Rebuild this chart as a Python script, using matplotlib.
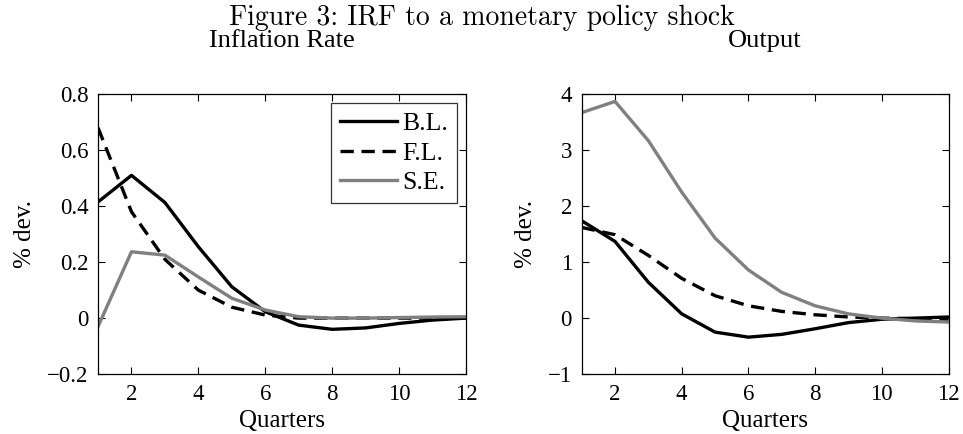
import matplotlib.pyplot as plt
import numpy as np

quarters = np.arange(1, 13)

infl_bl = [0.415, 0.51, 0.413, 0.255, 0.112, 0.023, -0.025, -0.04, -0.035, -0.019, -0.007, 0.0]
infl_fl = [0.68, 0.38, 0.21, 0.10, 0.039, 0.011, 0.0, 0.0, 0.0, 0.0, 0.0, 0.0]
infl_se = [-0.03, 0.237, 0.225, 0.147, 0.071, 0.029, 0.005, 0.0, 0.0, 0.002, 0.004, 0.005]

out_bl = [1.74, 1.37, 0.64, 0.076, -0.25, -0.34, -0.29, -0.19, -0.08, -0.02, 0.0, 0.02]
out_fl = [1.62, 1.49, 1.12, 0.71, 0.40, 0.22, 0.12, 0.06, 0.02, 0.0, -0.01, -0.02]
out_se = [3.67, 3.87, 3.17, 2.25, 1.43, 0.86, 0.46, 0.22, 0.076, 0.0, -0.05, -0.07]

series_names = ['B.L.', 'F.L.', 'S.E.']
xticks = [2, 4, 6, 8, 10, 12]

plt.rcParams['font.family'] = ['Liberation Serif', 'DejaVu Serif']
plt.rcParams['axes.unicode_minus'] = True

fig = plt.figure(figsize=(9.63, 4.34), dpi=100)

ax1 = fig.add_axes([0.1018, 0.138, 0.382, 0.645])
ax2 = fig.add_axes([0.604, 0.138, 0.381, 0.645])

grey = '#808080'
lw = 2.4

panels = [
    (ax1, infl_bl, infl_fl, infl_se, 'Inflation Rate', (-0.2, 0.8), [-0.2, 0, 0.2, 0.4, 0.6, 0.8]),
    (ax2, out_bl, out_fl, out_se, 'Output', (-1, 4), [-1, 0, 1, 2, 3, 4]),
]

for ax, bl, fl, se, title, ylim, yticks in panels:
    ax.plot(quarters, bl, color='black', linewidth=lw, label=series_names[0])
    ax.plot(quarters, fl, color='black', linewidth=lw, linestyle=(0, (4, 2.3)), label=series_names[1])
    ax.plot(quarters, se, color=grey, linewidth=lw, label=series_names[2])

    ax.set_xlim(1, 12)
    ax.set_ylim(*ylim)
    ax.set_xticks(xticks)
    ax.set_yticks(yticks)
    ax.set_yticklabels([('%g' % v).replace('-', '\u2212') for v in yticks])
    ax.tick_params(direction='in', top=True, right=True, length=5, width=0.8,
                   labelsize=16.5, pad=7)
    for s in ax.spines.values():
        s.set_linewidth(0.9)

    ax.set_title(title, fontsize=19, pad=34)
    ax.set_xlabel('Quarters', fontsize=18, labelpad=4)
    ax.set_ylabel('% dev.', fontsize=18, labelpad=8)

leg = ax1.legend(loc='upper right', fontsize=18.5, frameon=True, fancybox=False,
                 handlelength=2.2, handletextpad=0.2, borderpad=0.35,
                 labelspacing=0.25, borderaxespad=0.35)
leg.get_frame().set_edgecolor('black')
leg.get_frame().set_linewidth(0.9)

fig.text(0.5, 0.958, 'Figure 3: IRF to a monetary policy shock',
         ha='center', va='center', fontsize=20, family='cmr10')

plt.savefig('out.png', dpi=100)
plt.close()
